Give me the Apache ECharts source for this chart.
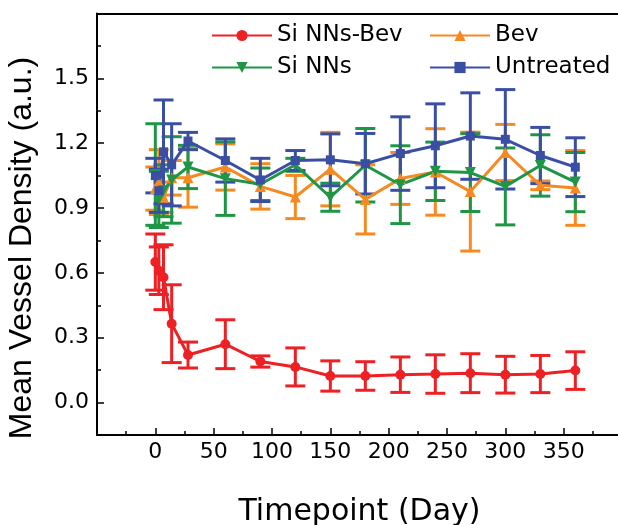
<!DOCTYPE html>
<html>
<head>
<meta charset="utf-8">
<script src="https://cdn.jsdelivr.net/npm/echarts@6/dist/echarts.min.js"></script>
<style>
  html, body { margin: 0; padding: 0; background: #fff; }
  #chart { width: 618px; height: 525px; }
</style>
</head>
<body>
<div id="chart"></div>
<script>
// timepoints (day)
var days = [0, 3, 7, 14, 28, 60, 90, 120, 150, 180, 210, 240, 270, 300, 330, 360];

// Si NNs-Bev
var siBevMean = [0.65, 0.61, 0.58, 0.365, 0.22, 0.27, 0.19, 0.165, 0.123, 0.123, 0.129, 0.132, 0.136, 0.129, 0.132, 0.148];
var siBevErr  = [0.13, 0.11, 0.15, 0.18, 0.06, 0.113, 0.026, 0.088, 0.07, 0.066, 0.082, 0.089, 0.09, 0.085, 0.086, 0.087];
// Bev
var bevMean = [0.99, 1.02, 0.95, 1.04, 1.04, 1.09, 1.0, 0.951, 1.08, 0.94, 1.037, 1.067, 0.976, 1.157, 1.005, 0.993];
var bevErr  = [0.1, 0.15, 0.07, 0.08, 0.136, 0.107, 0.105, 0.1, 0.17, 0.16, 0.12, 0.2, 0.275, 0.13, 0.02, 0.173];
// Si NNs
var siMean = [1.055, 0.94, 0.98, 1.03, 1.09, 1.036, 1.01, 1.1, 0.95, 1.098, 1.008, 1.07, 1.064, 1.0, 1.097, 1.02];
var siErr  = [0.235, 0.13, 0.12, 0.2, 0.1, 0.17, 0.075, 0.03, 0.065, 0.17, 0.18, 0.135, 0.18, 0.178, 0.142, 0.137];
// Untreated
var untMean = [1.05, 0.98, 1.16, 1.1, 1.21, 1.12, 1.03, 1.12, 1.123, 1.105, 1.152, 1.188, 1.233, 1.218, 1.143, 1.089];
var untErr  = [0.08, 0.1, 0.24, 0.19, 0.04, 0.1, 0.1, 0.046, 0.12, 0.14, 0.17, 0.194, 0.2, 0.23, 0.13, 0.136];

var xLabels = [0, 50, 100, 150, 200, 250, 300, 350];
var yMajor = [0, 0.3, 0.6, 0.9, 1.2, 1.5];
var yMinor = [0.15, 0.45, 0.75, 1.05, 1.35, 1.65];

var chart = echarts.init(document.getElementById('chart'));

function lineSeries(name, color, mean, symbol, size, rotate) {
  return {
    name: name,
    type: 'line',
    data: days.map(function (d, i) { return [d, mean[i]]; }),
    symbol: symbol,
    symbolSize: size,
    symbolRotate: rotate || 0,
    showSymbol: true,
    color: color,
    lineStyle: { color: color, width: 3 },
    itemStyle: { color: color },
    emphasis: { disabled: true },
    animation: false
  };
}

function errSeries(name, color, mean, err) {
  return {
    name: name,
    type: 'custom',
    data: days.map(function (d, i) { return [d, mean[i] - err[i], mean[i] + err[i]]; }),
    encode: { x: 0, y: [1, 2] },
    renderItem: function (params, api) {
      var lo = api.coord([api.value(0), api.value(1)]);
      var hi = api.coord([api.value(0), api.value(2)]);
      var w = 10;
      var st = { stroke: color, lineWidth: 3 };
      return {
        type: 'group',
        children: [
          { type: 'line', shape: { x1: lo[0], y1: lo[1], x2: hi[0], y2: hi[1] }, style: st },
          { type: 'line', shape: { x1: lo[0] - w, y1: lo[1], x2: lo[0] + w, y2: lo[1] }, style: st },
          { type: 'line', shape: { x1: hi[0] - w, y1: hi[1], x2: hi[0] + w, y2: hi[1] }, style: st }
        ]
      };
    },
    animation: false
  };
}

var red = '#ED2024', orange = '#F58A22', green = '#1E9646', blue = '#3A4FA3';
var tickFont = { fontFamily: 'DejaVu Sans', fontSize: 22, color: '#000' };
var legendText = { fontFamily: 'DejaVu Sans', fontSize: 23, color: '#000' };
var black = { color: '#000', width: 2 };

var option = {
  backgroundColor: '#fff',
  animation: false,
  grid: { left: 97, right: -4, top: 13.5, bottom: 90, outerBoundsMode: 'none', containLabel: false },
  legend: [
    {
      orient: 'vertical', left: 211, top: 24, padding: 0,
      itemWidth: 60, itemHeight: 14, itemGap: 9,
      textStyle: legendText,
      data: ['Si NNs-Bev', 'Si NNs']
    },
    {
      orient: 'vertical', left: 429, top: 24, padding: 0,
      itemWidth: 60, itemHeight: 14, itemGap: 9,
      textStyle: legendText,
      data: ['Bev', 'Untreated']
    }
  ],
  xAxis: [
    {
      type: 'value', min: -50, max: 400, interval: 50, position: 'bottom',
      name: 'Timepoint (Day)', nameLocation: 'middle', nameGap: 62,
      nameTextStyle: { fontFamily: 'DejaVu Sans', fontSize: 30, color: '#000' },
      axisLine: { show: true, onZero: false, lineStyle: black },
      axisTick: { inside: true, length: 7, lineStyle: { color: '#000', width: 1.5 } },
      minorTick: { show: true, splitNumber: 2, length: 4, lineStyle: { color: '#000', width: 1.5 } },
      axisLabel: Object.assign({ margin: 6, customValues: xLabels }, tickFont),
      splitLine: { show: false }
    },
    {
      type: 'value', min: -50, max: 400, position: 'top',
      axisLine: { show: true, onZero: false, lineStyle: black },
      axisTick: { show: false },
      axisLabel: { show: false },
      splitLine: { show: false }
    }
  ],
  yAxis: [
    {
      type: 'value', min: -0.15, max: 1.8, position: 'left',
      axisLine: { show: true, onZero: false, lineStyle: black },
      axisTick: { inside: true, length: 7, customValues: yMajor, lineStyle: { color: '#000', width: 1.5 } },
      axisLabel: Object.assign({
        margin: 8, customValues: yMajor,
        formatter: function (v) { return v.toFixed(1); }
      }, tickFont),
      splitLine: { show: false }
    },
    {
      type: 'value', min: -0.15, max: 1.8, position: 'left',
      axisLine: { show: false, onZero: false },
      axisTick: { inside: true, length: 4, customValues: yMinor, lineStyle: { color: '#000', width: 1.5 } },
      axisLabel: { show: false },
      splitLine: { show: false }
    }
  ],
  graphic: [
    {
      type: 'text', x: 22, y: 248, rotation: Math.PI / 2,
      style: {
        text: 'Mean Vessel Density (a.u.)',
        fontFamily: 'Liberation Sans', fontSize: 32, fill: '#000',
        align: 'center', verticalAlign: 'middle'
      }
    }
  ],
  series: [
    lineSeries('Si NNs-Bev', red, siBevMean, 'circle', 10),
    errSeries('Si NNs-Bev', red, siBevMean, siBevErr),
    lineSeries('Bev', orange, bevMean, 'triangle', 11),
    errSeries('Bev', orange, bevMean, bevErr),
    lineSeries('Si NNs', green, siMean, 'triangle', 11, 180),
    errSeries('Si NNs', green, siMean, siErr),
    lineSeries('Untreated', blue, untMean, 'rect', 9),
    errSeries('Untreated', blue, untMean, untErr)
  ]
};

chart.setOption(option);
</script>
</body>
</html>
